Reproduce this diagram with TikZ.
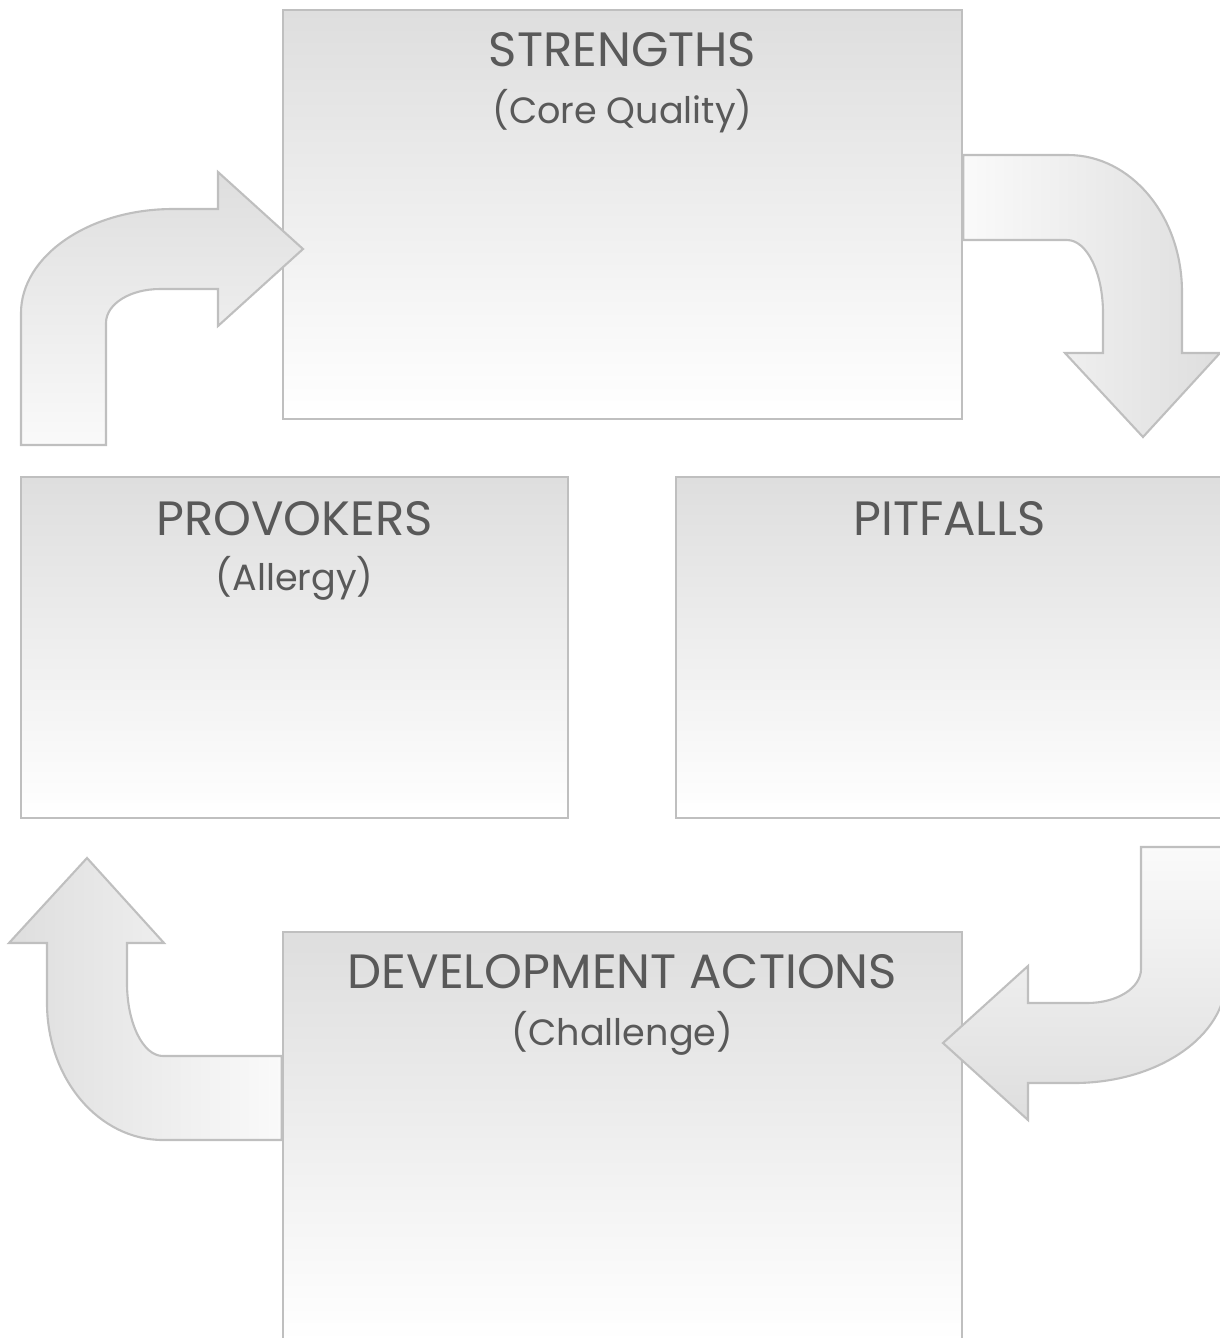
\documentclass[tikz,border=0pt]{standalone}
\usepackage{fontspec}
\setmainfont{Poppins}
\usepackage{tikz}

\begin{document}
\begin{tikzpicture}[x=0.01cm, y=-0.01cm]
%define
\tikzstyle{state_b} = [rectangle, minimum width=6.79cm, minimum height=4.09cm, draw=black!25, line width=0.6pt, top color=black!13, bottom color=white]
\tikzstyle{state_s} = [rectangle, minimum width=5.47cm, minimum height=3.41cm, draw=black!25, line width=0.6pt, top color=black!13, bottom color=white]
\tikzstyle{title} = [text=black!65, inner sep=0pt, anchor=base, font=\fontsize{13.7}{16}\selectfont]
\tikzstyle{sub} = [text=black!65, inner sep=0pt, anchor=base, font=\fontsize{10.4}{12}\selectfont]
\tikzstyle{bent} = [draw=black!25, line width=0.6pt]

\useasboundingbox (0,0) rectangle (1220,1338);
\clip (0,0) rectangle (1220,1338);

%blocks
\node[state_b](state_Strengths) at (622.5,214.5){};
\node[state_s](state_Provokers) at (294.5,647.5){};
\node[state_s](state_Pitfalls) at (949.5,647.5){};
\node[state_b](state_Actions) at (622.5,1136.5){};

%texts
\node[title](title_Strengths) at ([yshift=-0.58cm]state_Strengths.north){STRENGTHS};
\node[sub](sub_Strengths) at ([yshift=-1.15cm]state_Strengths.north){(Core Quality)};
\node[title](title_Provokers) at ([yshift=-0.60cm]state_Provokers.north){PROVOKERS};
\node[sub](sub_Provokers) at ([yshift=-1.15cm]state_Provokers.north){(Allergy)};
\node[title](title_Pitfalls) at ([yshift=-0.60cm]state_Pitfalls.north){PITFALLS};
\node[title](title_Actions) at ([yshift=-0.58cm]state_Actions.north){DEVELOPMENT ACTIONS};
\node[sub](sub_Actions) at ([yshift=-1.15cm]state_Actions.north){(Challenge)};

%arrows
\path[bent, top color=black!13, bottom color=black!2] %Provokers->Strengths
  (21,445) -- (21,313) .. controls (21,256) and (89,209) .. (173,209) -- (218,209)
  -- (218,172) -- (303,249) -- (218,326) -- (218,289) -- (160,289)
  .. controls (130,289) and (106,304) .. (106,323) -- (106,445) -- cycle;
\path[bent, left color=black!2, right color=black!13] %Strengths->Pitfalls
  (state_Strengths.east |- 0,155) -- (1068,155) .. controls (1131,155) and (1182,216) .. (1182,292)
  -- (1182,353) -- (1220,353) -- (1143,437) -- (1065,353) -- (1103,353) -- (1103,313)
  .. controls (1103,273) and (1087,240) .. (1067,240) -- (state_Strengths.east |- 0,240) -- cycle;
\path[bent, top color=black!2, bottom color=black!13] %Pitfalls->Actions
  (1141,847) -- (1141,969) .. controls (1141,988) and (1117,1003) .. (1087,1003) -- (1028,1003)
  -- (1028,966) -- (943,1043) -- (1028,1120) -- (1028,1083) -- (1074,1083)
  .. controls (1158,1083) and (1226,1036) .. (1226,979) -- (1226,847) -- cycle;
\path[bent, left color=black!13, right color=black!2] %Actions->Provokers
  (state_Actions.west |- 0,1056) -- (163,1056) .. controls (143,1056) and (127,1023) .. (127,983)
  -- (127,943) -- (164,943) -- (87,858) -- (9,943) -- (47,943) -- (47,1003)
  .. controls (47,1079) and (99,1140) .. (163,1140) -- (state_Actions.west |- 0,1140) -- cycle;

\end{tikzpicture}
\end{document}
